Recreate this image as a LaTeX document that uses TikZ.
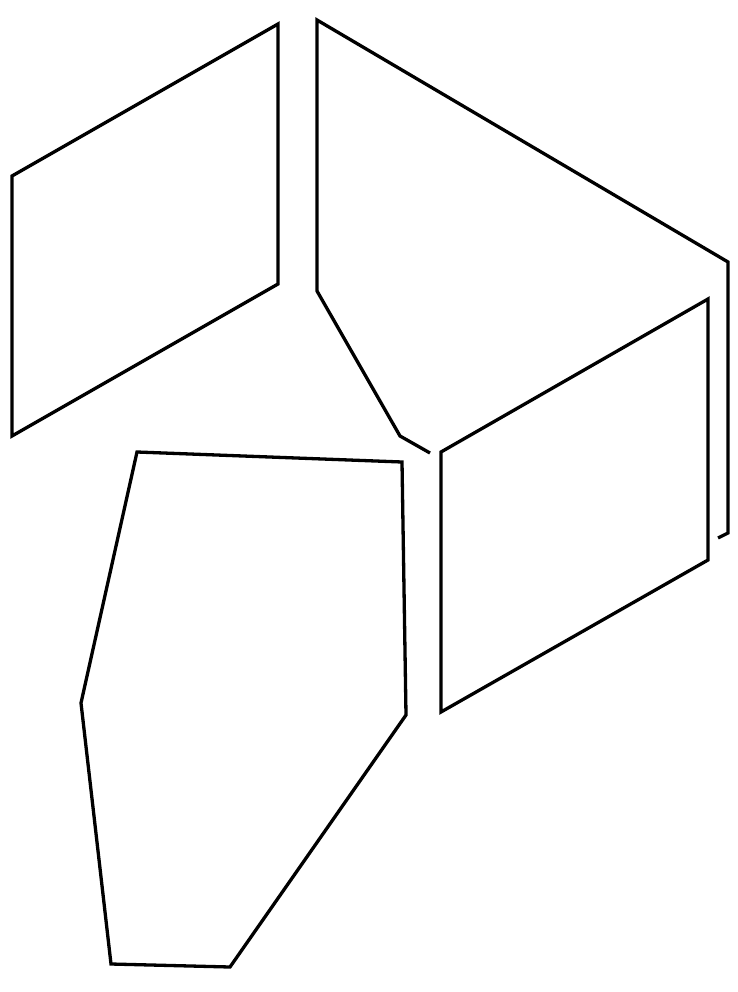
\documentclass[tikz,border=0pt]{standalone}
\usepackage{tikz}

\begin{document}
\begin{tikzpicture}[x=1pt,y=-1pt,panel/.style={line width=3.3pt,black}]
\useasboundingbox (0,0) rectangle (737,992);
% left panel
\draw [panel] (12,176) -- (278,24) -- (278,284) -- (12,436) -- cycle;
% back panel, open
\draw [panel] (430,453) -- (400,436) -- (317,291) -- (317,20) -- (728,262) -- (728,533) -- (718,538);
% right panel
\draw [panel] (441,452) -- (708,299) -- (708,560) -- (441,712) -- cycle;
% bottom panel
\draw [panel] (137,452) -- (402,462) -- (406,715) -- (230,967) -- (111,964) -- (81,703) -- cycle;
\end{tikzpicture}
\end{document}
